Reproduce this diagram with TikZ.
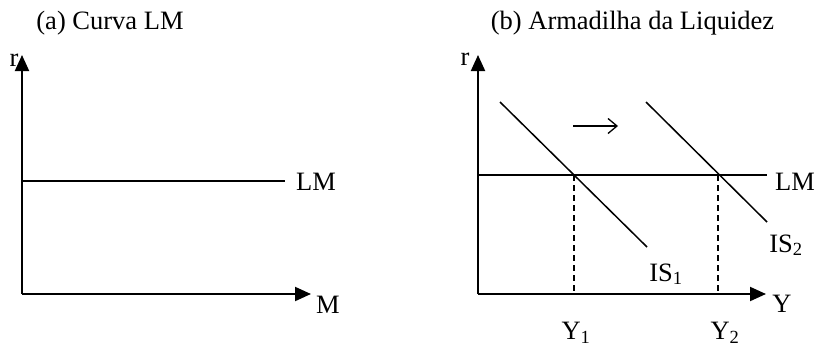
\documentclass[tikz,border=0pt]{standalone}
\usepackage{fontspec}
\setmainfont{Liberation Serif}
\usetikzlibrary{arrows.meta}
\begin{document}
\begin{tikzpicture}[x=1pt,y=-1pt,
  lbl/.style={font=\fontsize{26.5}{30}\selectfont, inner sep=0pt},
  axis/.style={line width=2pt, -{Triangle[length=16pt,width=14pt]}},
  curve/.style={line width=1.5pt},
  guide/.style={line width=1.5pt, dash pattern=on 6pt off 4pt}]
\useasboundingbox (0,0) rectangle (815,348);
% ---- panel (a)
\node[lbl] (ta) at (110,23) {(a) Curva LM};
\coordinate (oa) at (22,294);
\coordinate (ya) at (22,55);
\coordinate (xa) at (311,294);
\draw[axis] (oa) -- (ya);
\draw[axis] (oa) -- (xa);
\node[lbl] (ra) at (14,60) {r};
\node[lbl] (ma) at (328,305) {M};
\coordinate (lma0) at (22,181);
\coordinate (lma1) at (285,181);
\draw[curve] (lma0) -- (lma1);
\node[lbl] (lmla) at (316,181.5) {LM};
% ---- panel (b)
\node[lbl] (tb) at (632.5,23) {(b) Armadilha da Liquidez};
\coordinate (ob) at (478,294);
\coordinate (yb) at (478,55);
\coordinate (xb) at (766,294);
\draw[axis] (ob) -- (yb);
\draw[axis] (ob) -- (xb);
\node[lbl] (rb) at (465,59) {r};
\node[lbl] (ylab) at (782,303.5) {Y};
\coordinate (lmb0) at (478,175);
\coordinate (lmb1) at (767,175);
\draw[curve] (lmb0) -- (lmb1);
\node[lbl] (lmlb) at (795,181.5) {LM};
\coordinate (is1a) at (500,102);
\coordinate (is1b) at (647,247);
\draw[curve] (is1a) -- (is1b);
\coordinate (is2a) at (646,102);
\coordinate (is2b) at (767,222);
\draw[curve] (is2a) -- (is2b);
\node[lbl, anchor=base] (is1l) at (666,281) {IS\textsubscript{1}};
\node[lbl, anchor=base] (is2l) at (786,252) {IS\textsubscript{2}};
\coordinate (e1) at (574,175);
\coordinate (f1) at (574,294);
\coordinate (e2) at (718,175);
\coordinate (f2) at (718,294);
\draw[guide] (e1) -- (f1);
\draw[guide] (e2) -- (f2);
\node[lbl, anchor=base] (y1) at (576,339.5) {Y\textsubscript{1}};
\node[lbl, anchor=base] (y2) at (725,339.5) {Y\textsubscript{2}};
\coordinate (sa) at (573,126);
\coordinate (sb) at (618,126);
\draw[line width=1.3pt, -{Straight Barb[length=9pt,width=15pt]}] (sa) -- (sb);
\end{tikzpicture}
\end{document}
